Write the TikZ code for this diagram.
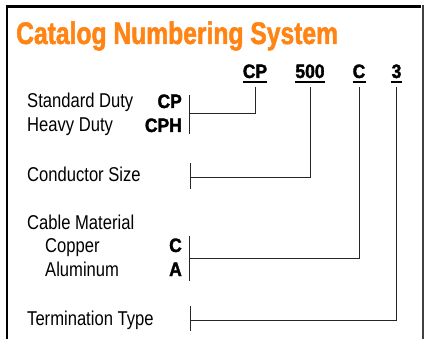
\documentclass[tikz,border=0pt]{standalone}
\usepackage{fontspec}
\setmainfont{Liberation Sans}[FakeStretch=0.83]
\newfontfamily\titlefont{Liberation Sans}[FakeStretch=0.79,BoldFeatures={FakeBold=1.6}]
\newfontfamily\codefont{Liberation Sans}[FakeStretch=0.9,BoldFeatures={FakeBold=1.8}]
\definecolor{catorange}{RGB}{255,132,20}
\begin{document}
\begin{tikzpicture}[x=1pt,y=-1pt,
  lbl/.style={anchor=base west,inner sep=0pt,font=\fontsize{20}{20}\selectfont},
  codeR/.style={anchor=base east,inner sep=0pt,font=\codefont\bfseries\fontsize{19.4}{19.4}\selectfont},
  codeT/.style={anchor=base,inner sep=0pt,font=\codefont\bfseries\fontsize{19.4}{19.4}\selectfont},
  uline/.style={line width=1.6pt},
  brk/.style={line width=0.9pt,black!85},
  conn/.style={line width=0.9pt,black!85},
  frameline/.style={line width=2.6pt,black}]
\useasboundingbox (0,0) rectangle (425,339);
% frame
\draw[frameline] (7,339) -- (7,6.5) -- (421,6.5);
\draw[line width=1.2pt,black!75] (423,5.2) -- (423,339);
% title
\node[anchor=base west,inner sep=0pt,text=catorange,font=\titlefont\bfseries\fontsize{31.2}{31.2}\selectfont] (title) at (16,44) {Catalog Numbering System};
% code
\node[codeT] (kcp) at (255,78) {CP};
\node[codeT] (k500) at (310,78) {500};
\node[codeT] (kc) at (359,78) {C};
\node[codeT] (k3) at (396.5,78) {3};
\foreach \n in {kcp,k500,kc,k3}{
  \draw[uline] ([yshift=-4pt]\n.base west) -- ([yshift=-4pt]\n.base east);
}
% labels
\node[lbl] (sd) at (27,108) {Standard Duty};
\node[codeR] (scp) at (182,108) {CP};
\node[lbl] (hd) at (27,132) {Heavy Duty};
\node[codeR] (hcph) at (182,132) {CPH};
\node[lbl] (cs) at (27,182) {Conductor Size};
\node[lbl] (cm) at (27,229) {Cable Material};
\node[lbl] (cu) at (45,252) {Copper};
\node[codeR] (cc) at (182,252) {C};
\node[lbl] (al) at (45,276) {Aluminum};
\node[codeR] (aa) at (182,276) {A};
\node[lbl] (tt) at (27,325) {Termination Type};
% brackets
\draw[brk] (189,95) -- (189,134);
\draw[brk] (190,163) -- (190,189);
\draw[brk] (189,236) -- (189,281);
\draw[brk] (190,306) -- (190,331);
\coordinate (j1) at (189,113);
\coordinate (j2) at (190,177);
\coordinate (j3) at (189,258);
\coordinate (j4) at (190,320);
% connectors
\draw[conn] ([yshift=-9pt]kcp.base) |- (j1);
\draw[conn] ([yshift=-9pt]k500.base) |- (j2);
\draw[conn] ([yshift=-9pt]kc.base) |- (j3);
\draw[conn] ([yshift=-9pt]k3.base) |- (j4);
\end{tikzpicture}
\end{document}
